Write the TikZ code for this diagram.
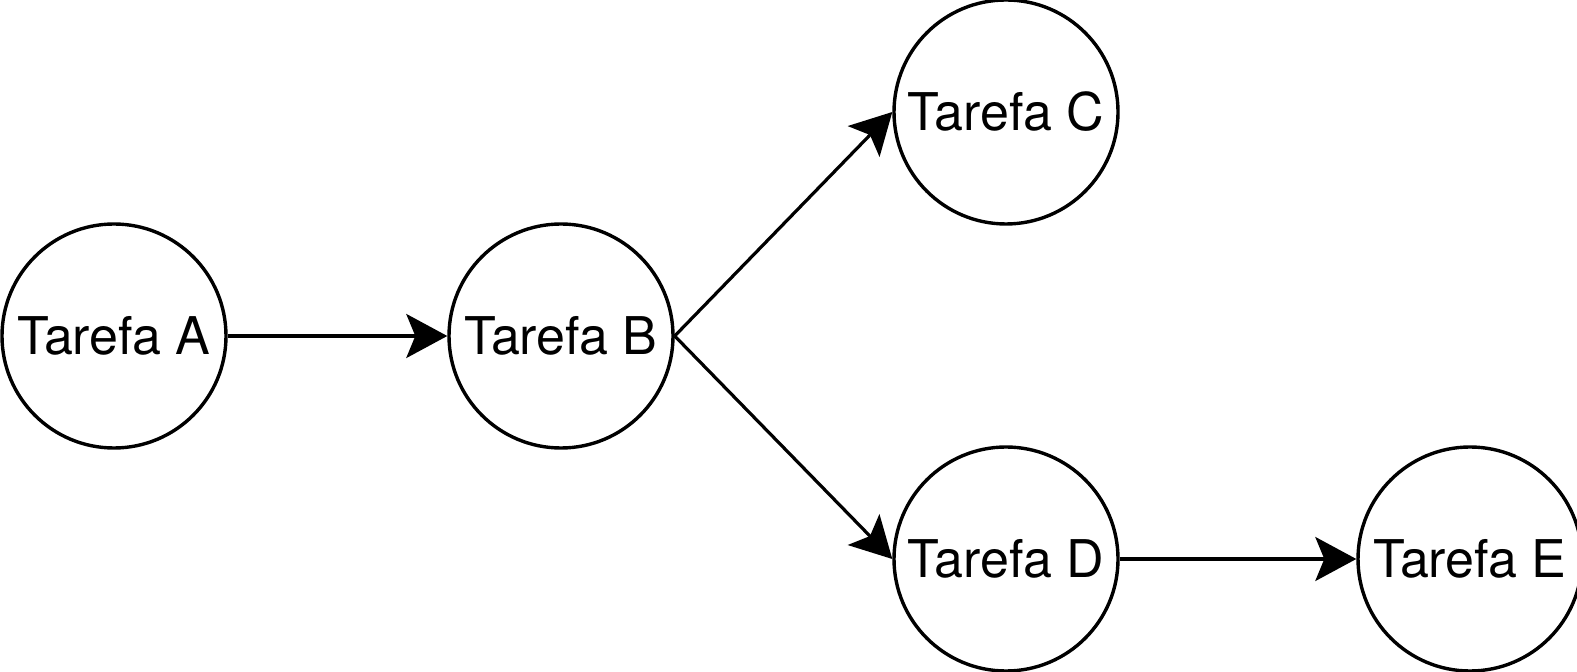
\documentclass[tikz,border=0pt]{standalone}
\usepackage{fontspec}
\setmainfont{TeX Gyre Heros}
\usetikzlibrary{arrows.meta}

\tikzset{
    tarefa/.style={draw, circle, line width=1.7pt, minimum size=112pt, inner sep=0pt, font=\fontsize{26}{31}\selectfont},
    seta/.style={line width=1.6pt, -{Stealth[length=20.5pt, width=22pt, inset=4.5pt]}}
}

\begin{document}
\begin{tikzpicture}[x=0.5pt, y=-0.5pt]
    \useasboundingbox (0,0) rectangle (1577,672);

    % tarefas
    \node[tarefa] (a) at (114, 336) {Tarefa A};
    \node[tarefa] (b) at (561, 336) {Tarefa B};
    \node[tarefa] (c) at (1006, 112) {Tarefa C};
    \node[tarefa] (d) at (1006, 559) {Tarefa D};
    \node[tarefa] (e) at (1470, 559) {Tarefa E};

    % dependencias
    \draw[seta] (a.east) -- (b.west);
    \draw[seta] (b.east) -- (c.west);
    \draw[seta] (b.east) -- (d.west);
    \draw[seta] (d.east) -- (e.west);
\end{tikzpicture}
\end{document}
